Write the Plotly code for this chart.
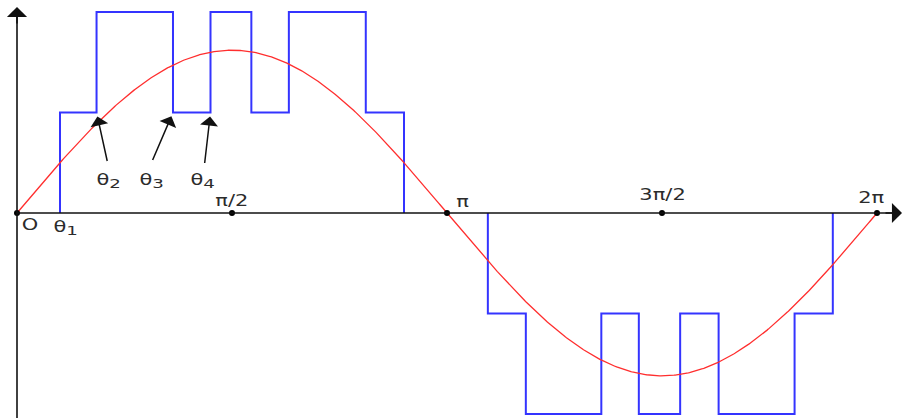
import numpy as np
import plotly.graph_objects as go

# Switching angles of the stepped (multilevel) waveform, in degrees
switch_deg = [0, 18.0, 33.3, 65.3, 81.0, 98.1, 113.8, 146.0, 162.0,
              197.1, 213.0, 244.6, 260.3, 277.6, 293.7, 325.5, 341.5, 360]
# Output level held after each switching angle
step_level = [0, 1, 2, 1, 2, 1, 2, 1, 0,
              -1, -2, -1, -2, -1, -2, -1, 0, 0]

# Reference sine amplitude (in step-level units)
sine_amplitude = 1.62

# Axis tick marks and their labels
tick_deg = [0, 90, 180, 270, 360]
tick_text = ["O", "π/2", "π", "3π/2", "2π"]

# Annotated switching angles (subscripts kept close to full size)
SUB = '<sub><span style="font-size:13px">{}</span></sub>'
theta_labels = ["θ" + SUB.format(k) for k in ("1", "2", "3", "4")]

BLUE = "#3434ff"
RED = "#ff2e2e"
INK = "#2b2b2b"
AXIS = "#111111"
FONT = dict(family="DejaVu Sans, Verdana, sans-serif", size=15, color=INK)

theta = np.linspace(0, 360, 721)
sine = sine_amplitude * np.sin(np.radians(theta))

# Build the step outline, leaving out the stretches that sit on the zero axis
step_x, step_y = [switch_deg[0]], [step_level[0]]
for i in range(len(switch_deg) - 1):
    v, x1 = step_level[i], switch_deg[i + 1]
    if v == 0:
        step_x += [None, x1]
        step_y += [None, 0]
    else:
        step_x.append(x1)
        step_y.append(v)
    nv = step_level[i + 1]
    if nv != v:
        step_x.append(x1)
        step_y.append(nv)

fig = go.Figure()

fig.add_trace(go.Scatter(
    x=step_x, y=step_y, mode="lines", connectgaps=False,
    line=dict(color=BLUE, width=2), hoverinfo="skip", showlegend=False))

fig.add_trace(go.Scatter(
    x=theta, y=sine, mode="lines",
    line=dict(color=RED, width=1.3), hoverinfo="skip", showlegend=False))

fig.add_trace(go.Scatter(
    x=tick_deg, y=[0] * len(tick_deg), mode="markers",
    marker=dict(color="#000000", size=6), hoverinfo="skip", showlegend=False))

x_min, x_max = -17 * 360 / 860, (902 - 17) * 360 / 860
y_max, y_min = 213 / 100.5, -205 / 100.5

shapes = [
    dict(type="line", xref="x", yref="y", x0=0, x1=x_max - 4, y0=0, y1=0,
         line=dict(color=AXIS, width=1.6), layer="above"),
    dict(type="line", xref="x", yref="y", x0=0, x1=0, y0=y_min, y1=y_max - 0.12,
         line=dict(color=AXIS, width=1.6), layer="above"),
]

annotations = []
# axis arrowheads
annotations.append(dict(x=x_max, y=0, xref="x", yref="y", ax=-18, ay=0,
                        showarrow=True, arrowhead=1, arrowsize=2.1, arrowwidth=1.6,
                        arrowcolor=AXIS, text=""))
annotations.append(dict(x=0, y=y_max - 0.07, xref="x", yref="y", ax=0, ay=18,
                        showarrow=True, arrowhead=1, arrowsize=2.1, arrowwidth=1.6,
                        arrowcolor=AXIS, text=""))

# tick labels
tick_shift = {"O": (13, -12), "π/2": (0, 12), "π": (15, 11),
              "3π/2": (0, 18), "2π": (-6, 15)}
for d, t in zip(tick_deg, tick_text):
    xs, ys = tick_shift[t]
    annotations.append(dict(x=d, y=0, xref="x", yref="y", text=t, showarrow=False,
                            xshift=xs, yshift=ys, font=FONT))

# theta_1 below the axis
annotations.append(dict(x=switch_deg[1], y=0, xref="x", yref="y", text=theta_labels[0],
                        showarrow=False, xshift=5, yshift=-15, font=FONT))

# theta_2..theta_4 with arrows pointing at the level-1 corners
arrow_idx = [2, 3, 4]
arrow_tail = [(11, 50), (-21, 49), (-6, 52)]
label_shift = [(12, -68), (-21, -68), (-8, -68)]
for lbl, i, (ax, ay), (xs, ys) in zip(theta_labels[1:], arrow_idx, arrow_tail, label_shift):
    annotations.append(dict(x=switch_deg[i], y=1, xref="x", yref="y", ax=ax, ay=ay,
                            showarrow=True, arrowhead=1, arrowsize=2.0, arrowwidth=1.5,
                            arrowcolor=AXIS, standoff=4, text=""))
    annotations.append(dict(x=switch_deg[i], y=1, xref="x", yref="y", text=lbl,
                            showarrow=False, xshift=xs, yshift=ys, font=FONT))

fig.update_layout(
    width=902, height=418, autosize=False,
    margin=dict(l=0, r=0, t=0, b=0),
    paper_bgcolor="white", plot_bgcolor="white",
    xaxis=dict(range=[x_min, x_max], visible=False, fixedrange=True),
    yaxis=dict(range=[y_min, y_max], visible=False, fixedrange=True),
    shapes=shapes, annotations=annotations,
)

# The label lettering is set wide: stretch each annotation text horizontally
widen_js = """
var gd = document.getElementById('{plot_id}');
function widen() {
  gd.querySelectorAll('.annotation-text').forEach(function (t) {
    t.style.transformBox = 'fill-box';
    t.style.transformOrigin = 'center';
    t.style.transform = 'scaleX(1.4)';
  });
}
widen();
gd.on('plotly_afterplot', widen);
"""

fig.write_html("out.html", post_script=widen_js)
